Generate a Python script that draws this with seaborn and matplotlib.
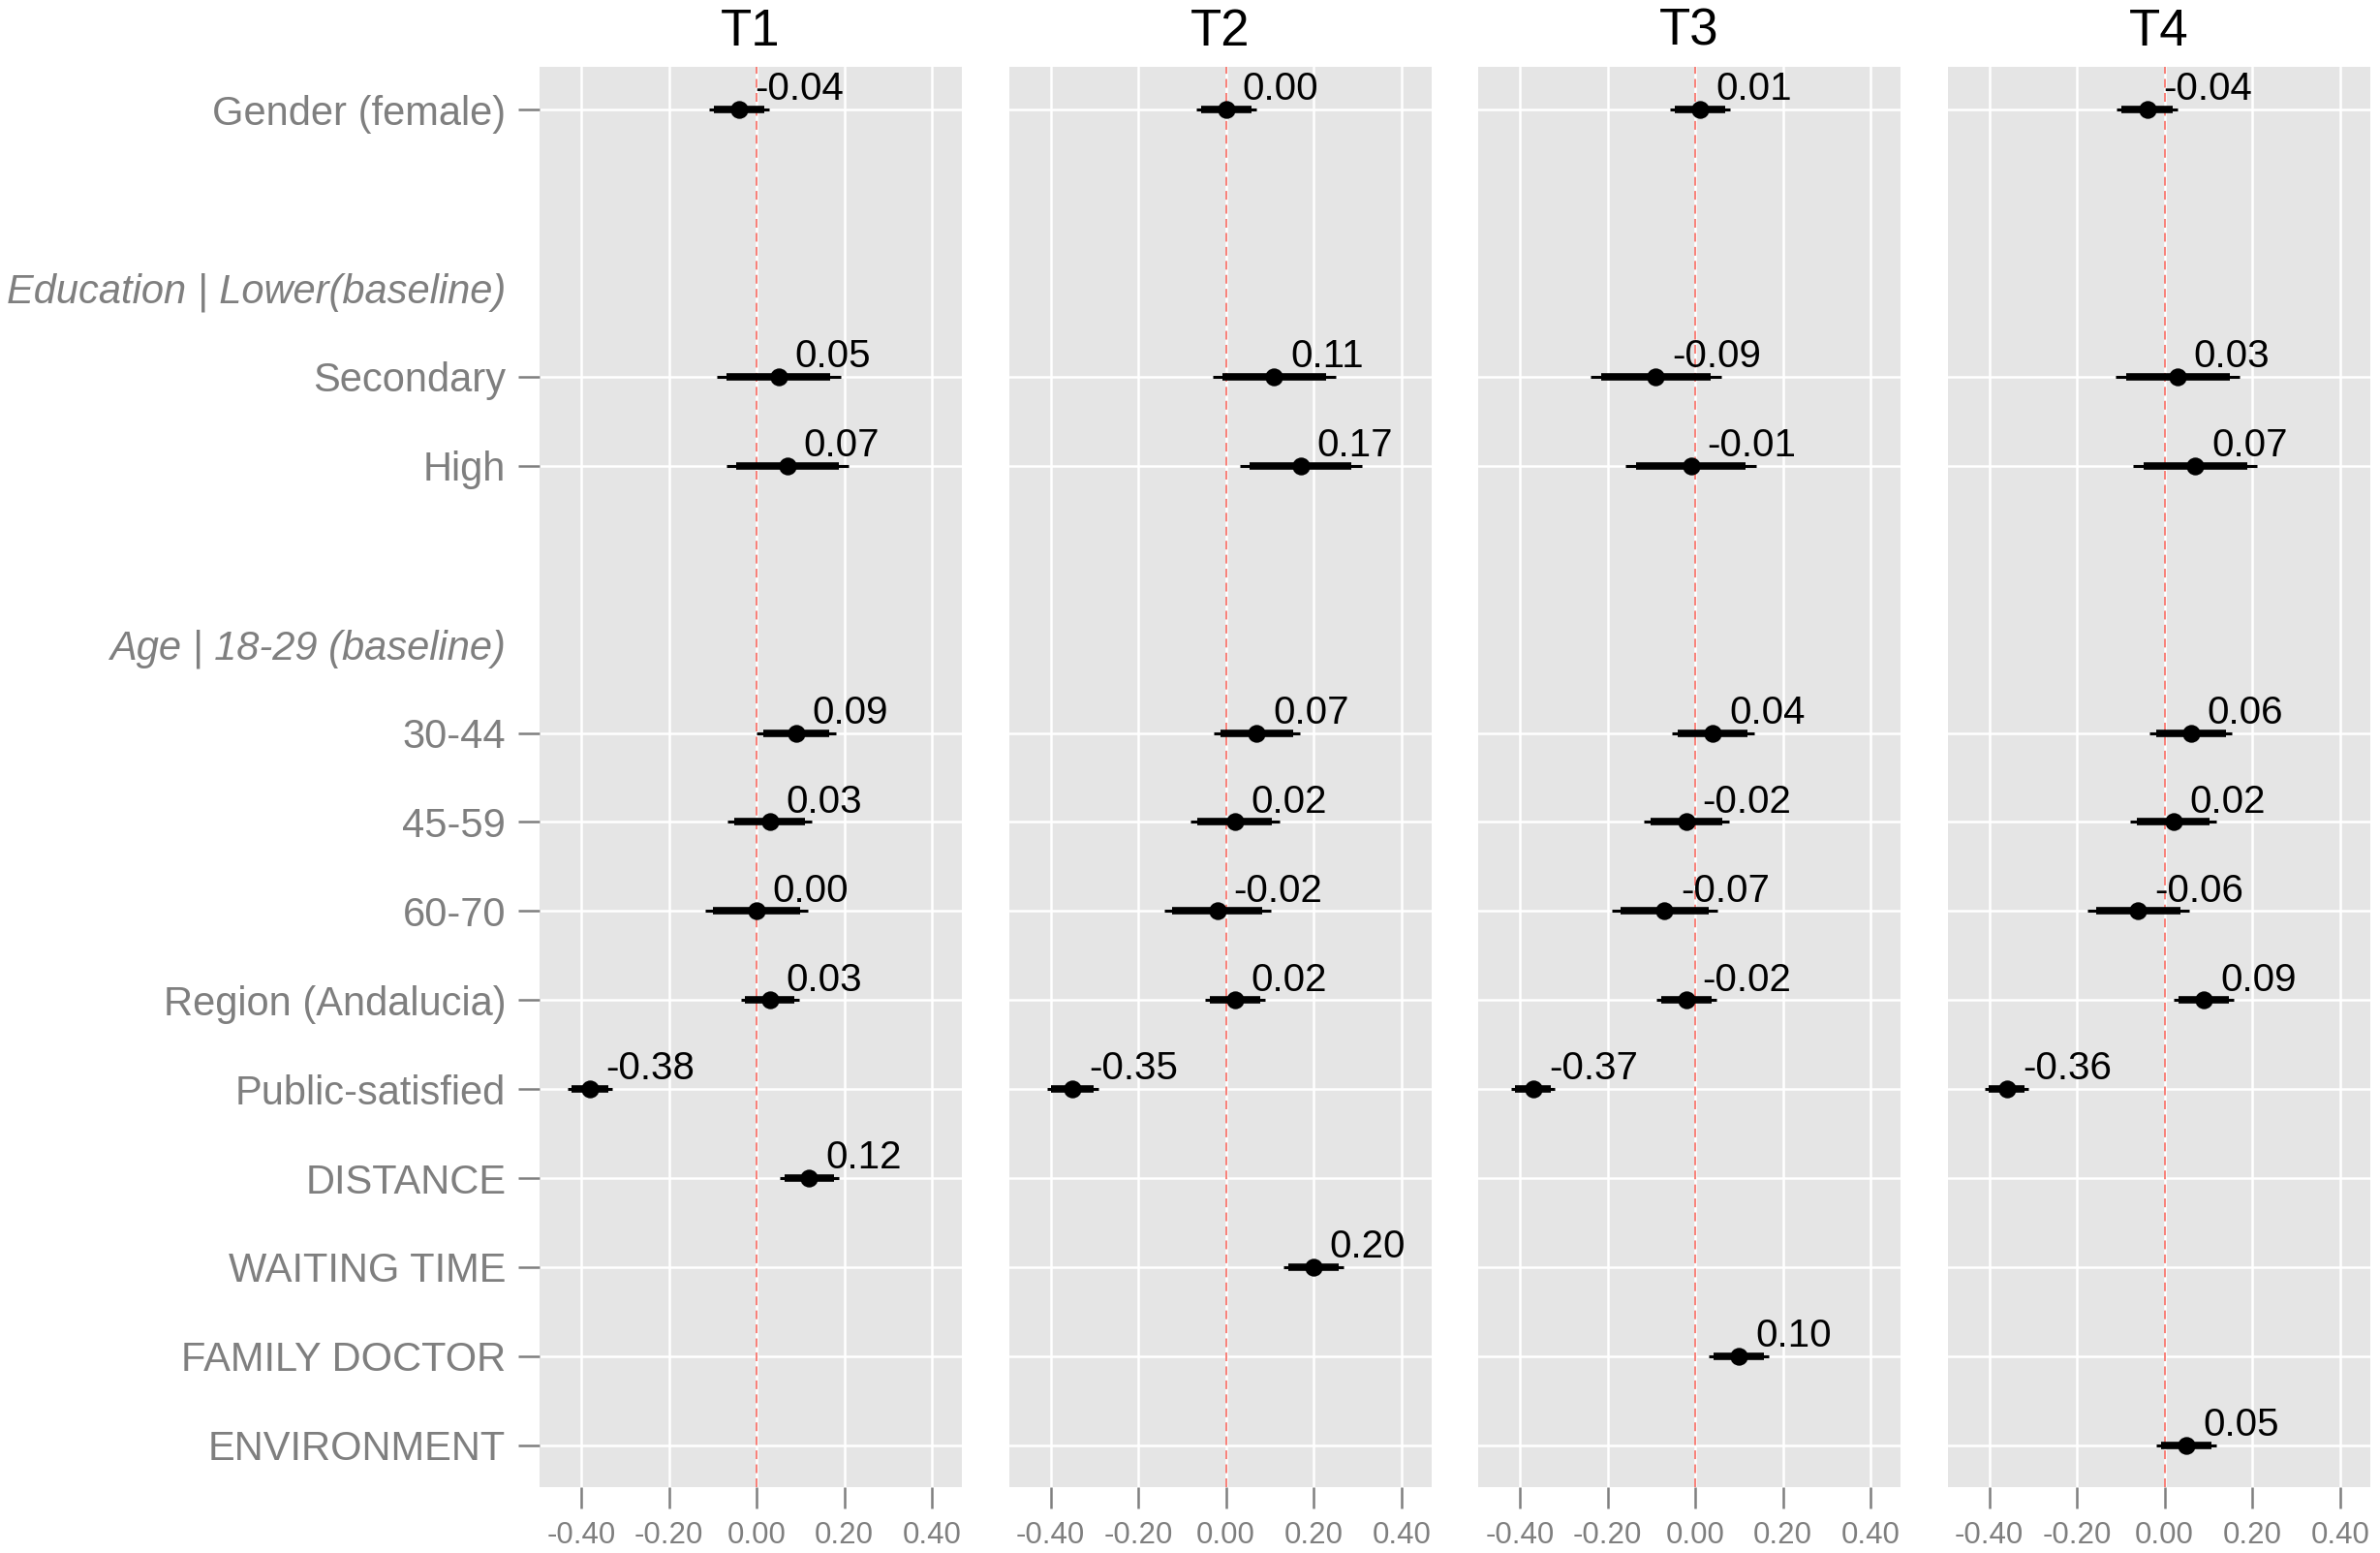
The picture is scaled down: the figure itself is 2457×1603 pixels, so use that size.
import numpy as np
import pandas as pd
import matplotlib
matplotlib.use("Agg")
import matplotlib.pyplot as plt
import matplotlib.transforms as mtransforms
from matplotlib.ticker import FormatStrFormatter
import seaborn as sns

# rows of the y axis, top to bottom ("" = empty slot)
row_labels = ["Gender (female)", "", "Education | Lower(baseline)", "Secondary", "High", "",
              "Age | 18-29 (baseline)", "30-44", "45-59", "60-70", "Region (Andalucia)",
              "Public-satisfied", "DISTANCE", "WAITING TIME", "FAMILY DOCTOR", "ENVIRONMENT"]
header_rows = ["Education | Lower(baseline)", "Age | 18-29 (baseline)"]

panels = ["T1", "T2", "T3", "T4"]
common_terms = ["Gender (female)", "Secondary", "High", "30-44", "45-59", "60-70",
                "Region (Andalucia)", "Public-satisfied"]
extra_terms = ["DISTANCE", "WAITING TIME", "FAMILY DOCTOR", "ENVIRONMENT"]

# estimates (common terms, then the panel's own attribute) and standard errors
est_t1 = [-0.04, 0.05, 0.07, 0.09, 0.03, 0.00, 0.03, -0.38, 0.12]
se_t1 = [0.035, 0.072, 0.071, 0.046, 0.049, 0.060, 0.034, 0.026, 0.034]
est_t2 = [0.00, 0.11, 0.17, 0.07, 0.02, -0.02, 0.02, -0.35, 0.20]
se_t2 = [0.035, 0.072, 0.071, 0.050, 0.052, 0.062, 0.035, 0.030, 0.035]
est_t3 = [0.01, -0.09, -0.01, 0.04, -0.02, -0.07, -0.02, -0.37, 0.10]
se_t3 = [0.035, 0.076, 0.076, 0.048, 0.050, 0.061, 0.035, 0.025, 0.035]
est_t4 = [-0.04, 0.03, 0.07, 0.06, 0.02, -0.06, 0.09, -0.36, 0.05]
se_t4 = [0.035, 0.072, 0.072, 0.048, 0.050, 0.059, 0.035, 0.025, 0.035]

x_ticks = [-0.4, -0.2, 0.0, 0.2, 0.4]

ests = [est_t1, est_t2, est_t3, est_t4]
ses = [se_t1, se_t2, se_t3, se_t4]
records = []
for p, extra, e, s in zip(panels, extra_terms, ests, ses):
    for term, v, sv in zip(common_terms + [extra], e, s):
        records.append({"panel": p, "term": term, "y": row_labels.index(term), "est": v, "se": sv})
df = pd.DataFrame(records)
df["lo95"] = df.est - 1.96 * df.se
df["hi95"] = df.est + 1.96 * df.se
df["lo90"] = df.est - 1.645 * df.se
df["hi90"] = df.est + 1.645 * df.se

data_rows = [i for i, r in enumerate(row_labels) if r and r not in header_rows]

sns.set_theme(style="darkgrid")
plt.rcParams["font.family"] = ["Liberation Sans", "DejaVu Sans"]
grey50 = "#7F7F7F"

W, H = 2457, 1603
fig = plt.figure(figsize=(W / 100, H / 100), dpi=100)
lefts = [557, 1041.5, 1526, 2010.5]
pw, top, bot = 436, 69, 1535
axes = []
for i, (left, name) in enumerate(zip(lefts, panels)):
    ax = fig.add_axes([left / W, 1 - bot / H, pw / W, (bot - top) / H])
    axes.append(ax)
    ax.set_facecolor("#E5E5E5")
    ax.set_axisbelow(True)
    ax.grid(True, color="white", lw=1.8)
    for sp in ax.spines.values():
        sp.set_visible(False)

    d = df[df.panel == name]
    ax.axvline(0, color="#F8766D", lw=1.3, ls=(0, (5, 3)), zorder=2)
    ax.hlines(d.y, d.lo95, d.hi95, color="black", lw=2.2, capstyle="butt", zorder=3)
    ax.hlines(d.y, d.lo90, d.hi90, color="black", lw=5.5, capstyle="butt", zorder=3)
    sns.scatterplot(data=d, x="est", y="y", ax=ax, color="black", s=175, linewidth=0,
                    zorder=4, legend=False)
    for _, r in d.iterrows():
        ax.annotate(f"{r.est:.2f}", (r.est, r.y), xytext=(12, 7), textcoords="offset points",
                    ha="left", va="baseline", fontsize=29, color="black", zorder=5)

    ax.set_xlim(-0.495, 0.468)
    ax.set_ylim(15.47, -0.48)
    ax.set_xticks(x_ticks)
    ax.xaxis.set_major_formatter(FormatStrFormatter("%.2f"))
    ax.set_yticks(data_rows)
    ax.set_xlabel("")
    ax.set_ylabel("")
    ax.tick_params(axis="both", length=16, width=1.8, color=grey50, labelcolor=grey50,
                   pad=9, bottom=True, left=True)
    ax.tick_params(axis="x", labelsize=22.5)
    if i == 0:
        ax.set_yticklabels([row_labels[k] for k in data_rows], fontsize=30)
        off = mtransforms.ScaledTranslation(-25 / 72, 0, fig.dpi_scale_trans)
        for h in header_rows:
            ax.text(0, row_labels.index(h), h, transform=ax.get_yaxis_transform() + off,
                    ha="right", va="center_baseline", style="italic", fontsize=30,
                    color=grey50)
    else:
        ax.tick_params(axis="y", left=False, labelleft=False)
    ax.set_title(name, fontsize=38, pad=16, color="black")

fig.savefig("out.png", dpi=100)
